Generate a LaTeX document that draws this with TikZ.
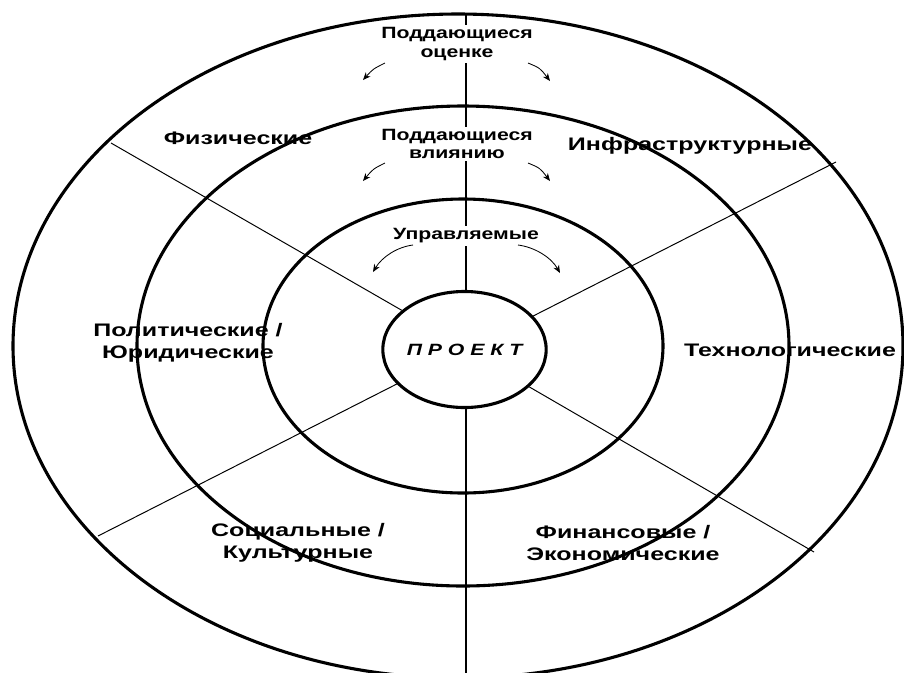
\documentclass[tikz,border=0pt]{standalone}
\usepackage{fontspec}
\newfontfamily\lblfont[FakeStretch=1.38]{Liberation Sans}
\newfontfamily\lvlfont[FakeStretch=1.30]{Liberation Sans}
\usetikzlibrary{arrows.meta,shapes.geometric}

\begin{document}
\begin{tikzpicture}[x=0.025cm, y=-0.025cm,
    ring/.style={line width=2.2pt},
    spoke/.style={line width=0.7pt},
    lvl/.style={font=\lvlfont\bfseries\fontsize{11.6}{13.1}\selectfont, align=center, fill=white, inner sep=1.6pt},
    sector/.style={font=\lblfont\bfseries\fontsize{12.9}{15.7}\selectfont, align=center, inner sep=0pt},
    arr/.style={-{Stealth[length=5.5pt,width=4.5pt]}, line width=0.6pt}]
  \useasboundingbox (0,0) rectangle (904,673);
  % the three rings round the project
  \draw[ring] (458,346) ellipse (445 and 332);
  \draw[ring] (463,346) ellipse (326 and 240);
  \draw[ring] (463,346) ellipse (200 and 147);
  \node[ellipse, draw, ring, minimum width=3.75cm, minimum height=2.9cm, inner sep=0pt,
        font=\lvlfont\bfseries\itshape\fontsize{11.6}{13}\selectfont] (proj) at (464.5,349.5) {П Р О Е К Т};
  % spokes
  \coordinate (top) at (466,14);
  \coordinate (bot) at (466,673);
  \coordinate (ul) at (111,143);
  \coordinate (ur) at (836,162);
  \coordinate (ll) at (98,536);
  \coordinate (lr) at (814,552);
  \draw[line width=0.9pt] (top) -- (top |- proj.north);
  \draw[line width=0.9pt] (bot |- proj.south) -- (bot);
  \draw[spoke] (proj.148.6) -- (ul);
  \draw[spoke] (proj.26.7) -- (ur);
  \draw[spoke] (proj.207.4) -- (ll);
  \draw[spoke] (proj.330.1) -- (lr);
  % levels
  \node[lvl] (ocen) at (457,44) {Поддающиеся\\оценке};
  \node[lvl] (vliy) at (457,144) {Поддающиеся\\влиянию};
  \node[lvl] (upr) at (466,236) {Управляемые};
  % sectors
  \node[sector] (fiz) at (238,138) {Физические};
  \node[sector] (infra) at (690,146) {Инфраструктурные};
  \node[sector] (polit) at (188,343) {Политические /\\Юридические};
  \node[sector] (tech) at (790,350) {Технологические};
  \node[sector] (soc) at (298,543) {Социальные /\\Культурные};
  \node[sector] (fin) at (623,543) {Финансовые /\\Экономические};
  % little arrows
  \coordinate (l1s) at (385,63);  \coordinate (l1e) at (363,80);
  \coordinate (r1s) at (528,63);  \coordinate (r1e) at (550,81);
  \coordinate (l2s) at (385,163); \coordinate (l2e) at (363,181);
  \coordinate (r2s) at (528,163); \coordinate (r2e) at (550,181);
  \coordinate (l3s) at (413,245); \coordinate (l3e) at (373,272);
  \coordinate (r3s) at (518,245); \coordinate (r3e) at (560,273);
  \draw[arr] (l1s) .. controls (373,69) .. (l1e);
  \draw[arr] (r1s) .. controls (540,68) .. (r1e);
  \draw[arr] (l2s) .. controls (373,169) .. (l2e);
  \draw[arr] (r2s) .. controls (540,168) .. (r2e);
  \draw[arr] (l3s) .. controls (397,247) and (382,257) .. (l3e);
  \draw[arr] (r3s) .. controls (534,247) and (551,257) .. (r3e);
\end{tikzpicture}
\end{document}
